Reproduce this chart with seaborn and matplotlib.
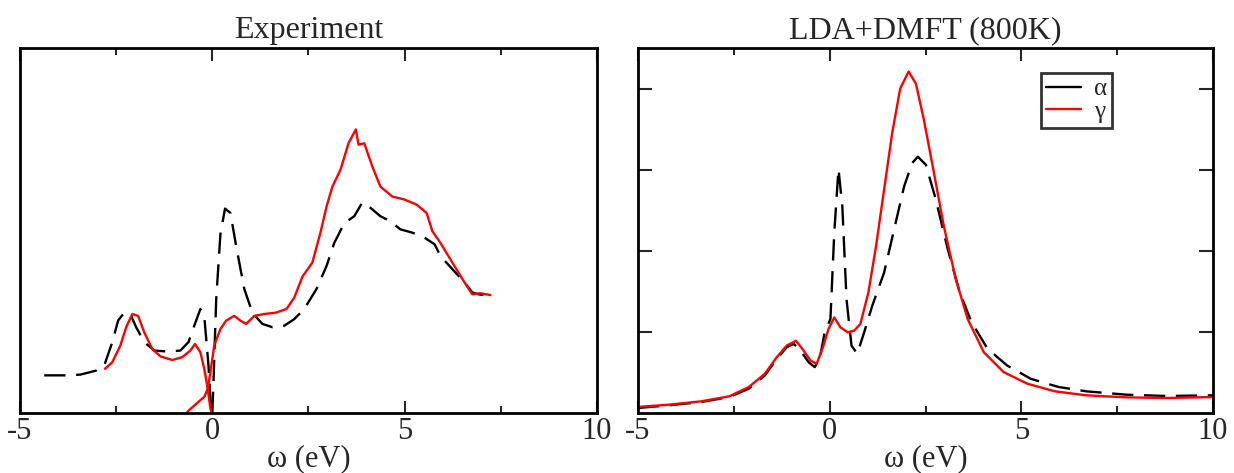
import numpy as np
import pandas as pd
import seaborn as sns
import matplotlib.pyplot as plt
from matplotlib.ticker import MultipleLocator

# Experiment, alpha phase (black dashed) - occupied part (x < 0)
exp_a_occ_x = [-4.37, -3.75, -3.43, -3.02, -2.81, -2.60, -2.45, -2.29, -2.13, -1.98, -1.77,
               -1.51, -1.14, -0.83, -0.62, -0.47, -0.31, -0.21, -0.10, -0.03, 0.0]
exp_a_occ_y = [0.103, 0.103, 0.105, 0.116, 0.130, 0.194, 0.253, 0.275, 0.270, 0.235, 0.194,
               0.171, 0.168, 0.171, 0.194, 0.239, 0.285, 0.266, 0.130, 0.003, 0.0]
# Experiment, alpha phase - unoccupied part (x > 0)
exp_a_unocc_x = [0.0, 0.03, 0.10, 0.21, 0.33, 0.47, 0.62, 0.83, 1.04, 1.30, 1.56, 1.87, 2.13,
                 2.39, 2.71, 2.97, 3.17, 3.43, 3.69, 3.90, 4.11, 4.37, 4.63, 4.89, 5.20,
                 5.52, 5.78, 5.93, 6.24, 6.56, 6.76, 6.97, 7.23]
exp_a_unocc_y = [0.0, 0.085, 0.310, 0.490, 0.560, 0.548, 0.457, 0.340, 0.275, 0.244, 0.235,
                 0.239, 0.257, 0.285, 0.340, 0.403, 0.466, 0.520, 0.539, 0.577, 0.562, 0.539,
                 0.525, 0.503, 0.494, 0.480, 0.462, 0.430, 0.394, 0.357, 0.330, 0.324, 0.324]

# Experiment, gamma phase (red) - occupied part
exp_g_occ_x = [-2.79, -2.60, -2.39, -2.24, -2.08, -1.93, -1.77, -1.56, -1.35, -1.04, -0.78,
               -0.57, -0.45, -0.31, -0.21, -0.12, -0.05, -0.02]
exp_g_occ_y = [0.121, 0.139, 0.185, 0.235, 0.271, 0.266, 0.221, 0.175, 0.155, 0.145, 0.153,
               0.171, 0.189, 0.166, 0.121, 0.066, 0.012, 0.0]
# Experiment, gamma phase - unoccupied part
exp_g_unocc_x = [-0.65, -0.42, -0.21, -0.12, -0.05, 0.05, 0.21, 0.36, 0.57, 0.73, 0.88, 1.09,
                 1.35, 1.66, 1.93, 2.13, 2.34, 2.60, 2.81, 2.97, 3.12, 3.33, 3.54, 3.73, 3.80,
                 3.95, 4.16, 4.37, 4.68, 4.99, 5.31, 5.57, 5.72, 5.93, 6.24, 6.56, 6.76, 6.97,
                 7.23]
exp_g_unocc_y = [0.003, 0.025, 0.044, 0.066, 0.112, 0.185, 0.230, 0.253, 0.266, 0.253, 0.244,
                 0.266, 0.271, 0.275, 0.285, 0.316, 0.373, 0.412, 0.494, 0.566, 0.620, 0.666,
                 0.739, 0.777, 0.735, 0.739, 0.675, 0.620, 0.593, 0.585, 0.571, 0.548, 0.498,
                 0.466, 0.412, 0.357, 0.325, 0.328, 0.323]

# LDA+DMFT (800K), alpha (black dashed)
dmft_a_x = [-5.0, -4.19, -3.35, -2.62, -2.11, -1.69, -1.38, -1.12, -0.94, -0.76, -0.55, -0.39,
            -0.26, -0.13, 0.02, 0.12, 0.23, 0.33, 0.44, 0.57, 0.72, 0.90, 1.11, 1.42, 1.68,
            1.94, 2.15, 2.30, 2.51, 2.77, 3.08, 3.39, 3.70, 4.12, 4.63, 5.25, 5.97, 6.70,
            7.74, 8.78, 10.0]
dmft_a_y = [0.061, 0.094, 0.135, 0.196, 0.299, 0.462, 0.667, 0.810, 0.851, 0.769, 0.626, 0.565,
            0.667, 0.994, 1.158, 2.220, 3.010, 2.550, 1.400, 0.830, 0.730, 0.994, 1.320, 1.730,
            2.260, 2.790, 3.080, 3.160, 3.060, 2.630, 2.020, 1.490, 1.120, 0.790, 0.585,
            0.420, 0.320, 0.266, 0.225, 0.209, 0.217]

# LDA+DMFT (800K), gamma (red)
dmft_g_x = [-5.0, -4.19, -3.35, -2.62, -2.11, -1.69, -1.38, -1.12, -0.88, -0.71, -0.50, -0.34,
            -0.19, -0.03, 0.12, 0.28, 0.47, 0.64, 0.80, 1.01, 1.21, 1.42, 1.63, 1.84, 2.06,
            2.25, 2.46, 2.72, 2.98, 3.29, 3.60, 4.02, 4.54, 5.16, 5.88, 6.70, 7.74, 8.78,
            10.0]
dmft_g_y = [0.074, 0.102, 0.143, 0.205, 0.319, 0.483, 0.687, 0.830, 0.890, 0.790, 0.646, 0.606,
            0.790, 1.035, 1.178, 1.056, 0.994, 1.015, 1.097, 1.485, 2.058, 2.754, 3.450, 4.000,
            4.210, 4.060, 3.610, 2.960, 2.300, 1.650, 1.158, 0.749, 0.503, 0.360, 0.266,
            0.217, 0.192, 0.184, 0.196]

x_ticks = [-5, 0, 5, 10]

sns.set_theme(style='white')
plt.rcParams['font.family'] = ['Liberation Serif', 'DejaVu Serif']

fig = plt.figure(figsize=(12.34, 4.73), dpi=100)
ax1 = fig.add_axes([0.0162, 0.127, 0.4676, 0.7715])
ax2 = fig.add_axes([0.517, 0.127, 0.466, 0.7715])

dash = (9, 4.5)
lw = 1.7


def seg(ax, xs, ys, color, dashed, label=None):
    df = pd.DataFrame({'w': xs, 'A': ys})
    line = sns.lineplot(data=df, x='w', y='A', ax=ax, color=color, lw=lw,
                        sort=False, estimator=None, label=label, legend=False)
    if dashed:
        line.lines[-1].set_dashes(dash)


seg(ax1, exp_a_occ_x, exp_a_occ_y, 'black', True)
seg(ax1, exp_a_unocc_x, exp_a_unocc_y, 'black', True)
seg(ax1, exp_g_occ_x, exp_g_occ_y, 'red', False)
seg(ax1, exp_g_unocc_x, exp_g_unocc_y, 'red', False)

seg(ax2, dmft_a_x, dmft_a_y, 'black', True, label='α')
seg(ax2, dmft_g_x, dmft_g_y, 'red', False, label='γ')

ax1.set_xlim(-5, 10)
ax1.set_ylim(0, 1)
ax2.set_xlim(-5, 10)
ax2.set_ylim(0, 4.5)

for ax, title in [(ax1, 'Experiment'), (ax2, 'LDA+DMFT (800K)')]:
    ax.set_title(title, fontsize=23, pad=7)
    ax.set_xlabel('ω (eV)', fontsize=22, labelpad=-1)
    ax.set_ylabel('')
    ax.xaxis.set_minor_locator(MultipleLocator(2.5))
    ax.set_xticks(x_ticks)
    ax.set_xticklabels([str(t) for t in x_ticks], fontsize=22)
    ax.tick_params(axis='x', which='both', direction='in', top=True, bottom=True, pad=3)
    ax.tick_params(axis='x', which='major', length=9, width=1.5)
    ax.tick_params(axis='x', which='minor', length=5, width=1.5)
    for s in ax.spines.values():
        s.set_color('black')
        s.set_linewidth(2)

ax1.set_yticks([])
ax2.set_yticks([1, 2, 3, 4])
ax2.set_yticklabels([])
ax2.tick_params(axis='y', which='major', direction='in', left=True, right=True,
                length=10, width=1.5)

leg = ax2.legend(loc='upper right', bbox_to_anchor=(0.824, 0.932), fontsize=18,
                 handlelength=1.4, handletextpad=0.5, borderpad=0.2,
                 labelspacing=0.0, borderaxespad=0, frameon=True, fancybox=False)
leg.get_frame().set_edgecolor('black')
leg.get_frame().set_linewidth(2)
leg.legend_handles[0].set_linestyle('-')

fig.savefig('out.png', dpi=100)
